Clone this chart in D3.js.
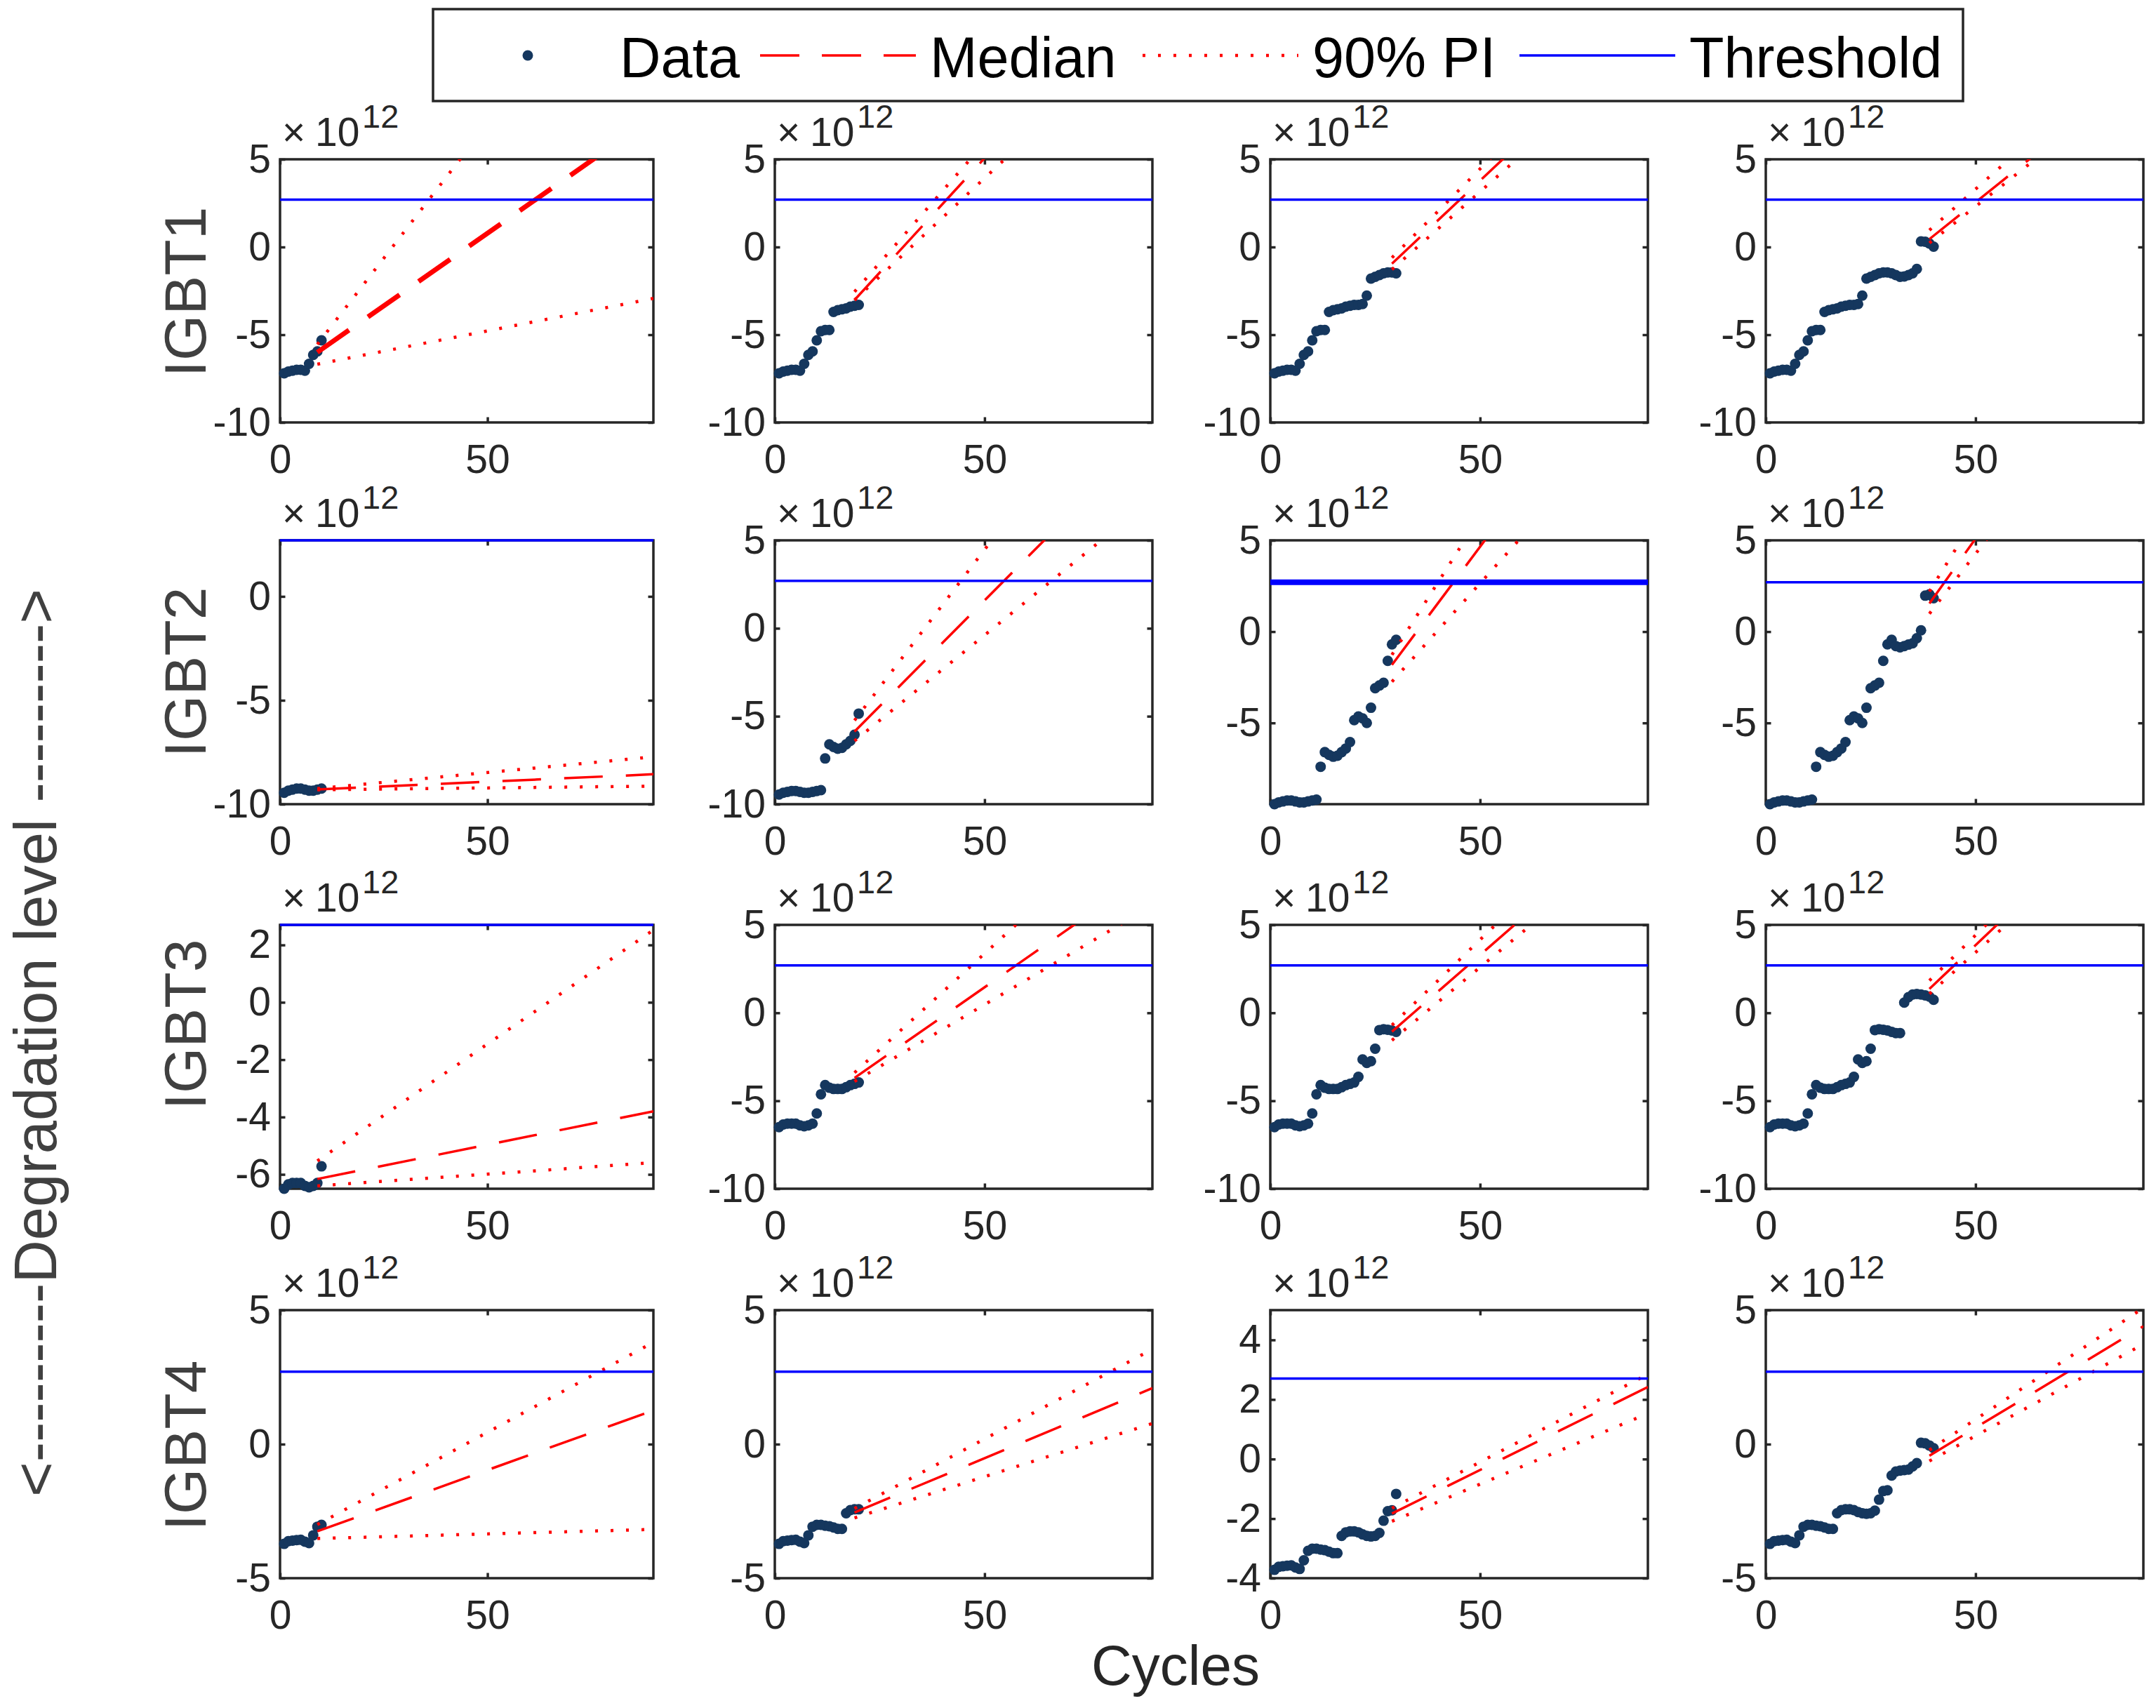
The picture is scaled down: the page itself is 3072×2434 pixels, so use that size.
<!DOCTYPE html>
<html>
<head>
<meta charset="utf-8">
<script src="https://cdn.jsdelivr.net/npm/d3@7"></script>
<style>
  body { margin: 0; background: #fff; }
  text { font-family: "Liberation Sans", Arial, Helvetica, sans-serif; }
</style>
</head>
<body>
<svg id="chart"></svg>
<script>
// ---- data (units of 1e12) ----
const cycles = d3.range(1, 41);
const igbt1 = [-7.2, -7.1, -7.05, -7.0, -7.0, -7.05, -6.66, -6.15, -5.95, -5.32,
  -4.8, -4.73, -4.73, -3.7, -3.6, -3.55, -3.5, -3.4, -3.35, -3.3,
  -3.3, -3.25, -2.77, -1.8, -1.7, -1.6, -1.5, -1.45, -1.45, -1.5,
  -1.6, -1.7, -1.68, -1.6, -1.5, -1.25, 0.32, 0.3, 0.2, 0.02];
const igbt2 = [-9.45, -9.35, -9.3, -9.25, -9.25, -9.3, -9.35, -9.35, -9.3, -9.25,
  -9.2, -7.4, -6.6, -6.75, -6.85, -6.8, -6.6, -6.4, -6.05, -4.85,
  -4.65, -4.75, -5.0, -4.17, -3.1, -2.95, -2.8, -1.6, -0.7, -0.45,
  -0.79, -0.86, -0.79, -0.71, -0.64, -0.36, 0.07, 1.97, 2.04, 1.83];
const igbt3 = [-6.5, -6.35, -6.3, -6.3, -6.3, -6.4, -6.45, -6.4, -6.3, -5.72,
  -4.63, -4.11, -4.26, -4.33, -4.33, -4.33, -4.23, -4.11, -4.04, -3.96,
  -3.64, -2.65, -2.85, -2.75, -2.04, -0.98, -0.93, -0.96, -1.0, -1.08,
  -1.15, -1.15, 0.58, 0.89, 1.04, 1.07, 1.04, 0.99, 0.92, 0.74];
const igbt4 = [-3.72, -3.62, -3.6, -3.58, -3.57, -3.64, -3.69, -3.4, -3.08, -3.01,
  -3.01, -3.04, -3.06, -3.11, -3.16, -3.16, -2.58, -2.46, -2.43, -2.43,
  -2.46, -2.53, -2.58, -2.6, -2.58, -2.48, -2.07, -1.75, -1.72, -1.17,
  -1.02, -0.99, -0.97, -0.95, -0.83, -0.71, 0.05, 0.03, -0.05, -0.15];
const series = [igbt1, igbt2, igbt3, igbt4];
const rowLabels = ["IGBT1", "IGBT2", "IGBT3", "IGBT4"];
const nObserved = [10, 20, 30, 40];
const predStart = [9, 19, 29, 39];
const predEndX = 90;
const threshold = 2.7;

// prediction lines: value at predStart and at predEndX, rows = IGBT, cols = panel
const medStart = [[-6.0, -3.02, -0.95, 0.45], [-9.29, -5.87, -1.82, 1.54], [-6.16, -3.7, -1.07, 1.36], [-3.25, -2.55, -1.83, -0.43]];
const medEnd   = [[7.4, 15.5, 12.8, 10.2], [-8.56, 11.2, 16.97, 18.0], [-3.8, 8.1, 11.6, 12.9], [1.26, 2.09, 2.42, 4.4]];
const upStart  = [[-5.55, -2.55, -0.61, 0.96], [-9.25, -5.24, -1.27, 2.2], [-5.53, -3.4, -0.7, 1.83], [-3.0, -2.4, -1.65, -0.22]];
const upEnd    = [[19.3, 16.9, 14.1, 11.8], [-7.72, 17.0, 20.8, 21.1], [2.52, 12.1, 13.4, 13.8], [3.8, 3.54, 2.85, 5.08]];
const loStart  = [[-6.68, -3.03, -1.28, 0.23], [-9.31, -6.4, -2.74, 0.98], [-6.4, -3.9, -1.56, 1.08], [-3.52, -2.75, -2.09, -0.63]];
const loEnd    = [[-2.93, 12.9, 11.6, 9.87], [-9.13, 7.36, 12.9, 16.2], [-5.59, 6.1, 10.5, 12.0], [-3.18, 0.77, 1.53, 3.73]];

// axis limits
const xDomain = [0, 90];
const xTicks = [0, 50];
const yLow  = [[-10, -10, -10, -10], [-10, -10, -9.45, -9.45], [-6.5, -10, -10, -10], [-5, -5, -4, -5]];
const yHigh = [[5, 5, 5, 5], [2.7, 5, 5, 5], [2.7, 5, 5, 5], [5, 5, 5, 5]];

// ---- layout ----
const W = 3072, H = 2434;
const colLeft = [399, 1104, 1810, 2516];
const colWidth = [532, 538, 538, 538];
const rowTop = [227, 770, 1318, 1867];
const rowHeight = [375, 376, 376, 382];
const rowLabelY = [416, 958, 1460, 2060];

const axisColor = "#262626";
const dotColor = "#15375e";
const red = "#ff0000";
const blue = "#0000ff";
const tickFont = 57;
const plainNum = (d) => String(d);   // hyphen minus, like the original

const svg = d3.select("#chart").attr("width", W).attr("height", H);
svg.append("rect").attr("width", W).attr("height", H).attr("fill", "#fff");
const defs = svg.append("defs");

series.forEach((vals, r) => {
  nObserved.forEach((n, c) => {
    const w = colWidth[c], h = rowHeight[r];
    const g = svg.append("g").attr("transform", `translate(${colLeft[c]},${rowTop[r]})`);
    const x = d3.scaleLinear().domain(xDomain).range([0, w]);
    const y = d3.scaleLinear().domain([yLow[r][c], yHigh[r][c]]).range([h, 0]);
    const yTicks = y.ticks(3);

    const clipId = `clip-${r}-${c}`;
    defs.append("clipPath").attr("id", clipId)
      .append("rect").attr("width", w).attr("height", h);

    // axes: labelled left/bottom, bare ticks right/top
    const styleAxis = (sel) => {
      sel.attr("color", axisColor).attr("font-size", tickFont)
        .attr("font-family", '"Liberation Sans", Arial, sans-serif');
      sel.select(".domain").remove();
      sel.selectAll(".tick line").attr("stroke-width", 3.5);
      sel.selectAll(".tick text").attr("fill", axisColor);
    };
    g.append("g").call(d3.axisLeft(y).tickValues(yTicks).tickFormat(plainNum).tickSize(-7.5).tickPadding(13)).call(styleAxis);
    g.append("g").attr("transform", `translate(${w},0)`)
      .call(d3.axisRight(y).tickValues(yTicks).tickSize(-7.5).tickFormat("")).call(styleAxis);
    g.append("g").attr("transform", `translate(0,${h})`)
      .call(d3.axisBottom(x).tickValues(xTicks).tickFormat(plainNum).tickSize(-7.5).tickPadding(31.5)).call(styleAxis);
    g.append("g")
      .call(d3.axisTop(x).tickValues(xTicks).tickSize(-7.5).tickFormat("")).call(styleAxis);

    g.append("rect").attr("width", w).attr("height", h)
      .attr("fill", "none").attr("stroke", axisColor).attr("stroke-width", 3.5);

    // exponent label
    const ex = g.append("text").attr("y", -19).attr("font-size", tickFont).attr("fill", axisColor);
    ex.append("tspan").attr("x", 3).text("×");
    ex.append("tspan").attr("x", 50).text("10");
    ex.append("tspan").attr("x", 117).attr("dy", -26).attr("font-size", 47).text("12");

    // observed data
    g.append("g").selectAll("circle")
      .data(cycles.slice(0, n))
      .join("circle")
      .attr("cx", (d) => x(d))
      .attr("cy", (d, i) => y(vals[i]))
      .attr("r", 7.5)
      .attr("fill", dotColor);

    // prediction lines
    const lines = g.append("g").attr("clip-path", `url(#${clipId})`);
    const x0 = predStart[c];
    const seg = (a, b) => lines.append("line")
      .attr("x1", x(x0)).attr("y1", y(a))
      .attr("x2", x(predEndX)).attr("y2", y(b))
      .attr("fill", "none").attr("stroke", red);
    seg(upStart[r][c], upEnd[r][c]).attr("stroke-width", 4.5).attr("stroke-dasharray", "4,18");
    seg(loStart[r][c], loEnd[r][c]).attr("stroke-width", 4.5).attr("stroke-dasharray", "4,18");
    seg(medStart[r][c], medEnd[r][c])
      .attr("stroke-width", (r === 0 && c === 0) ? 7 : 3.5)
      .attr("stroke-dasharray", "55,33");

    // threshold
    g.append("line")
      .attr("x1", x(xDomain[0])).attr("x2", x(xDomain[1]))
      .attr("y1", y(threshold)).attr("y2", y(threshold))
      .attr("stroke", blue)
      .attr("stroke-width", (r === 1 && c === 2) ? 8 : 3.5);
  });

  svg.append("text")
    .attr("transform", `translate(293,${rowLabelY[r]}) rotate(-90)`)
    .attr("text-anchor", "middle")
    .attr("font-size", 84)
    .attr("fill", "#404040")
    .text(rowLabels[r]);
});

// shared axis titles
svg.append("text")
  .attr("transform", "translate(80,1486) rotate(-90)")
  .attr("text-anchor", "middle")
  .attr("font-size", 85)
  .attr("fill", "#404040")
  .text("<---------Degradation level --------->");

svg.append("text")
  .attr("x", 1675).attr("y", 2401)
  .attr("text-anchor", "middle")
  .attr("font-size", 80)
  .attr("fill", axisColor)
  .text("Cycles");

// legend
const legend = svg.append("g");
legend.append("rect")
  .attr("x", 617).attr("y", 13).attr("width", 2180).attr("height", 131)
  .attr("fill", "#fff").attr("stroke", axisColor).attr("stroke-width", 3.5);
const legY = 79;
const legendItems = [
  { label: "Data", x: 641 },
  { label: "Median", x: 1083 },
  { label: "90% PI", x: 1628 },
  { label: "Threshold", x: 2165 }
];
legendItems.forEach((it, i) => {
  if (i === 0) {
    legend.append("circle").attr("cx", it.x + 111).attr("cy", legY).attr("r", 7.5).attr("fill", dotColor);
  } else {
    const l = legend.append("line")
      .attr("x1", it.x).attr("x2", it.x + 222)
      .attr("y1", legY).attr("y2", legY);
    if (i === 1) l.attr("stroke", red).attr("stroke-width", 3.5).attr("stroke-dasharray", "56,32");
    if (i === 2) l.attr("stroke", red).attr("stroke-width", 4.5).attr("stroke-dasharray", "4,18");
    if (i === 3) l.attr("stroke", blue).attr("stroke-width", 3.5);
  }
  legend.append("text")
    .attr("x", it.x + 242).attr("y", 110)
    .attr("font-size", 81).attr("fill", "#000")
    .text(it.label);
});
</script>
</body>
</html>
